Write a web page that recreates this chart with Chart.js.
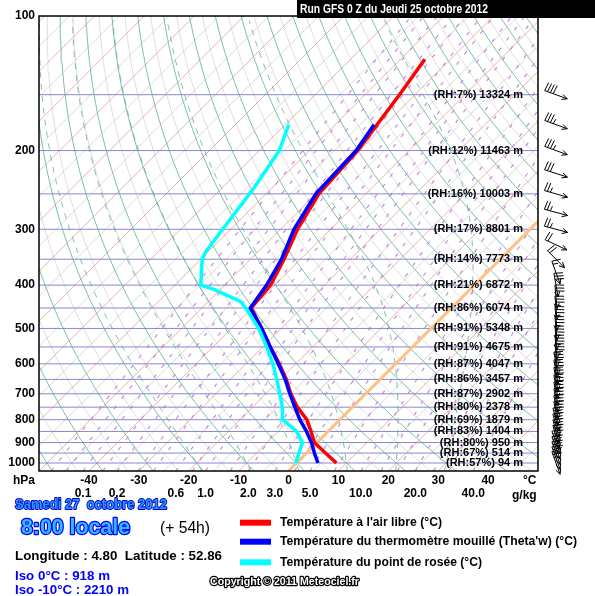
<!DOCTYPE html>
<html>
<head>
<meta charset="utf-8">
<script src="https://cdn.jsdelivr.net/npm/chart.js@4.4.0/dist/chart.umd.min.js"></script>
<style>
  html, body { margin: 0; padding: 0; background: #fff; }
  canvas { display: block; }
</style>
</head>
<body>
<canvas id="skewt" width="595" height="596"></canvas>
<script>
// ---- sounding (hPa / degC) ----
const tempP = [1000, 950, 900, 850, 800, 750, 700, 650, 600, 550, 500, 450, 400, 350, 300, 250, 200, 150, 125];
const tempC = [8.0, 3.8, -0.5, -3.4, -6.6, -11.0, -15.0, -18.8, -23.3, -28.5, -33.9, -40.1, -40.8, -43.3, -46.6, -49.4, -50.3, -53.1, -55.1];

const wetP = [1000, 950, 900, 850, 800, 750, 700, 650, 600, 550, 500, 450, 400, 350, 300, 250, 200, 175];
const wetC = [4.3, 1.6, -1.1, -4.3, -8.0, -11.5, -15.2, -19.0, -23.5, -28.5, -33.9, -40.3, -41.6, -43.8, -47.3, -50.0, -50.6, -52.2];

const dewP = [1000, 950, 900, 850, 800, 750, 700, 650, 600, 550, 500, 450, 435, 409, 400, 350, 336, 300, 250, 242, 200, 175];
const dewC = [-0.1, -1.5, -2.9, -6.3, -11.4, -14.0, -17.2, -20.7, -24.6, -29.2, -34.5, -41.2, -43.6, -51.3, -54.8, -59.7, -60.5, -61.6, -63.3, -63.6, -66.0, -69.3];

// heights and humidity printed on the isobars
const rhLevels = [150, 200, 250, 300, 350, 400, 450, 500, 550, 600, 650, 700, 750, 800, 850, 900, 950, 1000];
const rhValues = [7, 12, 16, 17, 14, 21, 86, 91, 91, 87, 86, 87, 80, 69, 83, 80, 67, 57];
const heights = [13324, 11463, 10003, 8801, 7773, 6872, 6074, 5348, 4675, 4047, 3457, 2902, 2378, 1879, 1404, 950, 514, 94];

// wind barbs (direction from, knots)
const windP = [150, 175, 200, 225, 250, 275, 300, 325, 350, 375, 400, 425, 450, 475, 500, 525, 550, 575, 600,
  625, 650, 675, 700, 725, 750, 775, 800, 825, 850, 875, 900, 925, 950, 975, 1000];
const windDir = [290, 290, 290, 288, 286, 285, 285, 295, 315, 340, 350, 355, 355, 355, 355, 355, 355, 355, 350,
  350, 350, 350, 350, 350, 350, 350, 345, 345, 345, 345, 340, 340, 340, 340, 340];
const windKt = [40, 35, 35, 30, 25, 25, 25, 20, 20, 15, 30, 30, 35, 35, 35, 35, 35, 35, 35,
  35, 35, 35, 35, 35, 35, 35, 35, 35, 35, 30, 30, 30, 30, 25, 25];

// axis ticks
const pTicks = [100, 200, 300, 400, 500, 600, 700, 800, 900, 1000];
const tTicks = [-40, -30, -20, -10, 0, 10, 20, 30, 40];
const mixTicks = [0.1, 0.2, 0.6, 1.0, 2.0, 3.0, 5.0, 10.0, 20.0, 40.0];
const mixLines = [0.05, 0.07, 0.1, 0.15, 0.2, 0.3, 0.4, 0.6, 0.8, 1, 1.5, 2, 3, 4, 5, 7, 10, 13, 16, 20, 25, 30, 40];

// ---- skew-T helpers ----
const P_BOTTOM = 1042;
const P_TOP = 100;
const SKEW = 89.5;

function skewX(t, p) {
  return t + SKEW * Math.log10(P_BOTTOM / p);
}

function pts(ps, ts) {
  return ps.map((p, i) => ({ x: skewX(ts[i], p), y: p }));
}

function logSteps(n) {
  let out = [];
  for (let i = 0; i <= n; i++) {
    out.push(P_BOTTOM * Math.pow(P_TOP / P_BOTTOM, i / n));
  }
  return out;
}

function dewFromMix(w, p) {
  const e = w * p / (622 + w);
  const l = Math.log(e / 6.112);
  return 243.5 * l / (17.67 - l);
}

function moistCurve(tw) {
  const Rd = 287.04, cp = 1005.7, L = 2.501e6, eps = 0.622;
  const lapse = (T, p) => {
    const es = 6.112 * Math.exp(17.67 * (T - 273.15) / (T - 29.65));
    const rs = eps * es / (p - es);
    return (Rd * T + L * rs) / (cp + L * L * rs * eps / (Rd * T * T));
  };
  let out = [];
  let T = tw + 273.15, p = 1000;
  // down to the bottom of the chart
  let Td = T, pd = p;
  while (pd < P_BOTTOM) {
    const dl = 0.005;
    Td += lapse(Td, pd) * dl;
    pd *= Math.exp(dl);
  }
  out.push({ x: skewX(Td - 273.15, pd), y: pd });
  out.push({ x: skewX(T - 273.15, p), y: p });
  let k = 0;
  while (p > P_TOP) {
    const dl = -0.005;
    T += lapse(T, p) * dl;
    p *= Math.exp(dl);
    k++;
    if (k % 6 === 0) out.push({ x: skewX(T - 273.15, p), y: p });
  }
  return out;
}

function lineSet(data, color, width, dash, order) {
  return {
    data: data,
    showLine: true,
    borderColor: color,
    borderWidth: width,
    borderDash: dash || [],
    pointRadius: 0,
    fill: false,
    tension: 0,
    order: order
  };
}

let datasets = [];
datasets.push(lineSet(pts(dewP, dewC), '#00ffff', 3.5, null, 0));
datasets.push(lineSet(pts(wetP, wetC), '#0000ff', 3.5, null, 1));
datasets.push(lineSet(pts(tempP, tempC), '#ff0000', 3.5, null, 2));
// 0 degC isotherm
datasets.push(lineSet([{ x: skewX(0, P_BOTTOM), y: P_BOTTOM }, { x: skewX(0, P_TOP), y: P_TOP }], '#ffc080', 3, null, 3));

const curveP = logSteps(40);

// isobars
for (let p = 150; p <= 1000; p += 50) {
  datasets.push(lineSet([{ x: -50, y: p }, { x: 50, y: p }], 'rgb(136,136,204)', 1, null, 5));
}
// mixing ratio
mixLines.forEach(w => {
  datasets.push(lineSet(curveP.map(p => ({ x: skewX(dewFromMix(w, p), p), y: p })), 'rgba(195,130,225,0.95)', 1.2, [4, 9], 6));
});
// moist adiabats
for (let tw = -20; tw <= 30; tw += 10) {
  datasets.push(lineSet(moistCurve(tw), 'rgba(110,185,160,0.9)', 1, [6, 6], 7));
}
// dry adiabats
for (let th = -60; th <= 190; th += 10) {
  datasets.push(lineSet(curveP.map(p => ({ x: skewX((th + 273.15) * Math.pow(p / 1000, 0.2857) - 273.15, p), y: p })), 'rgba(110,185,160,0.9)', 1, null, 8));
  datasets.push(lineSet(curveP.map(p => ({ x: skewX((th + 278.15) * Math.pow(p / 1000, 0.2857) - 273.15, p), y: p })), 'rgba(150,150,150,0.45)', 0.7, null, 9));
}
// isotherms
for (let t = -160; t <= 50; t += 10) {
  datasets.push(lineSet([{ x: skewX(t, P_BOTTOM), y: P_BOTTOM }, { x: skewX(t, P_TOP), y: P_TOP }], 'rgba(225,160,150,0.8)', 1, null, 9));
  datasets.push(lineSet([{ x: skewX(t + 5, P_BOTTOM), y: P_BOTTOM }, { x: skewX(t + 5, P_TOP), y: P_TOP }], 'rgba(150,150,150,0.5)', 0.7, null, 9));
}

function drawText(ctx, text, x, y, w, font, fill, stroke, sw) {
  ctx.font = font;
  const m = ctx.measureText(text).width;
  const sx = w ? w / m : 1;
  ctx.save();
  ctx.translate(x, y);
  ctx.scale(sx, 1);
  ctx.textAlign = 'left';
  ctx.textBaseline = 'middle';
  if (stroke) {
    ctx.lineWidth = sw;
    ctx.strokeStyle = stroke;
    ctx.lineJoin = 'round';
    ctx.strokeText(text, 0, 0);
  }
  ctx.fillStyle = fill;
  ctx.fillText(text, 0, 0);
  ctx.restore();
}

function drawBarb(ctx, cx, cy, dir, kt) {
  const len = 24;
  const to = (dir + 180) * Math.PI / 180;
  const ux = Math.sin(to), uy = -Math.cos(to);
  const tx = cx - ux * len / 2, ty = cy - uy * len / 2;
  const hx = cx + ux * len / 2, hy = cy + uy * len / 2;
  ctx.beginPath();
  ctx.moveTo(tx, ty);
  ctx.lineTo(hx, hy);
  // arrow head
  const a = Math.atan2(uy, ux);
  [a + Math.PI - 0.45, a + Math.PI + 0.45].forEach(b => {
    ctx.moveTo(hx, hy);
    ctx.lineTo(hx + Math.cos(b) * 6, hy + Math.sin(b) * 6);
  });
  // barbs at the tail
  const px = uy, py = -ux;
  let s = kt, k = 0;
  while (s >= 5) {
    const l = s >= 10 ? 9 : 5;
    const bx = tx + ux * k * 3, by = ty + uy * k * 3;
    ctx.moveTo(bx, by);
    ctx.lineTo(bx + px * l + ux, by + py * l + uy);
    s -= s >= 10 ? 10 : 5;
    k++;
  }
  ctx.stroke();
}

const overlay = {
  id: 'overlay',
  afterDatasetsDraw(chart) {
    const ctx = chart.ctx, xs = chart.scales.x, ys = chart.scales.y, a = chart.chartArea;
    ctx.save();
    // frame
    ctx.strokeStyle = '#000';
    ctx.lineWidth = 1.5;
    ctx.strokeRect(a.left, a.top, a.right - a.left, a.bottom - a.top);

    // heights on the isobars
    ctx.font = 'bold 11px "Liberation Sans", Arial, sans-serif';
    ctx.textAlign = 'right';
    ctx.textBaseline = 'middle';
    ctx.fillStyle = '#000';
    rhLevels.forEach((p, i) => {
      ctx.fillText('(RH:' + rhValues[i] + '%) ' + heights[i] + ' m', 523, ys.getPixelForValue(p));
    });

    // pressure labels
    ctx.font = 'bold 12px "Liberation Sans", Arial, sans-serif';
    pTicks.forEach(p => ctx.fillText(String(p), 35, ys.getPixelForValue(p)));

    // temperature labels
    ctx.textAlign = 'center';
    tTicks.forEach(t => ctx.fillText(String(t), xs.getPixelForValue(t), 481));
    ctx.textAlign = 'left';
    ctx.fillText('hPa', 13, 481);
    ctx.fillText('°C', 523, 481);

    // mixing ratio labels
    ctx.textAlign = 'center';
    mixTicks.forEach(w => {
      ctx.fillText(w.toFixed(1), xs.getPixelForValue(dewFromMix(w, P_BOTTOM)), 494);
    });
    ctx.textAlign = 'left';
    ctx.fillText('g/kg', 512, 496);

    // wind barbs
    ctx.strokeStyle = '#000';
    ctx.lineWidth = 1;
    windP.forEach((p, i) => drawBarb(ctx, 556, ys.getPixelForValue(p), windDir[i], windKt[i]));

    // title box
    ctx.fillStyle = '#000';
    ctx.fillRect(297, 0, 298, 18);
    drawText(ctx, 'Run GFS 0 Z du Jeudi 25 octobre 2012', 300, 10, 188, 'bold 12px "Liberation Sans", Arial, sans-serif', '#fff');

    // bottom block
    const f = '"Liberation Sans", Arial, sans-serif';
    drawText(ctx, 'Samedi 27  octobre 2012', 15, 505, 152, 'bold 15px ' + f, '#2299ff', '#0000cc', 2);
    drawText(ctx, '8:00 locale', 21, 528, 109, 'bold 22px ' + f, '#33bbff', '#0000ff', 2.5);
    drawText(ctx, '(+ 54h)', 160, 528, 50, '17px ' + f, '#000');
    drawText(ctx, 'Longitude : 4.80  Latitude : 52.86', 15, 556, 207, 'bold 13px ' + f, '#000');
    drawText(ctx, 'Iso 0°C : 918 m', 15, 576, 95, 'bold 13px ' + f, '#0000ff');
    drawText(ctx, 'Iso -10°C : 2210 m', 15, 590, 114, 'bold 13px ' + f, '#0000ff');

    const legend = [
      ['#ff0000', 'Température à l\'air libre (°C)', 522.7, 162],
      ['#0000ff', 'Température du thermomètre mouillé (Theta\'w) (°C)', 541.7, 297],
      ['#00ffff', 'Température du point de rosée (°C)', 562.3, 202]
    ];
    legend.forEach(l => {
      ctx.fillStyle = l[0];
      ctx.fillRect(240, l[2] - 3, 31, 6);
      drawText(ctx, l[1], 280, l[2], l[3], 'bold 12px ' + f, '#000');
    });
    drawText(ctx, 'Copyright © 2011 Meteociel.fr', 210, 582, 149, 'bold 11px ' + f, '#fff', '#000', 2.5);
    ctx.restore();
  }
};

new Chart(document.getElementById('skewt').getContext('2d'), {
  type: 'scatter',
  data: { datasets: datasets },
  options: {
    responsive: false,
    animation: false,
    layout: { padding: { left: 39, top: 16, right: 57, bottom: 125 } },
    plugins: { legend: { display: false }, tooltip: { enabled: false } },
    scales: {
      x: { type: 'linear', min: -50, max: 50, display: false },
      y: { type: 'logarithmic', min: P_TOP, max: P_BOTTOM, reverse: true, display: false }
    }
  },
  plugins: [overlay]
});
</script>
</body>
</html>
